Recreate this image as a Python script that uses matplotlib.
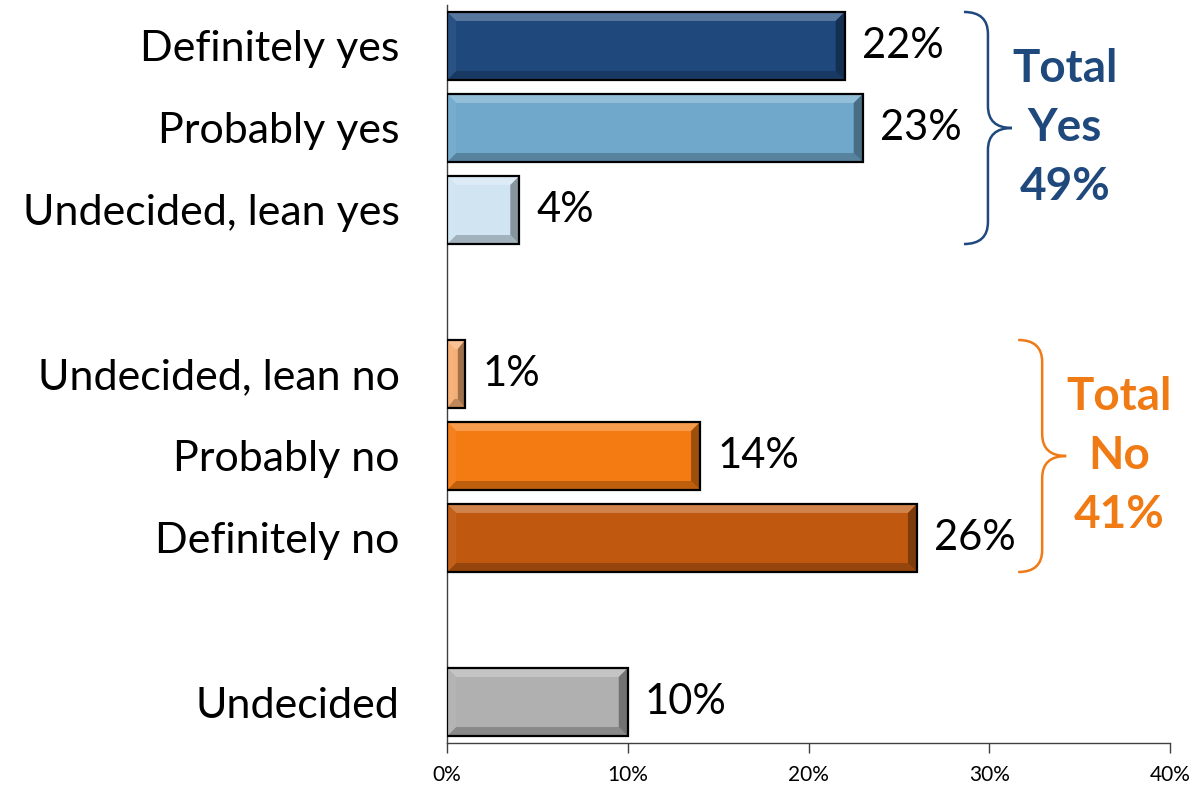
import matplotlib
matplotlib.use("Agg")
import matplotlib.pyplot as plt
from matplotlib.patches import Polygon, Rectangle, PathPatch
from matplotlib.path import Path
import matplotlib.colors as mcolors
import numpy as np

plt.rcParams['font.family'] = ['Lato', 'DejaVu Sans']

categories = ["Definitely yes", "Probably yes", "Undecided, lean yes",
              "Undecided, lean no", "Probably no", "Definitely no", "Undecided"]
values = [22, 23, 4, 1, 14, 26, 10]
slots = [0, 1, 2, 4, 5, 6, 8]
colors = ["#1F497D", "#6FA8CB", "#D0E4F2", "#F5AE74", "#F47A12", "#C0590F", "#B0B0B0"]
xticks = [0, 10, 20, 30, 40]
xticklabels = ["0%", "10%", "20%", "30%", "40%"]
groups = [("Total\nYes\n49%", [0, 1, 2], "#1F497D"),
          ("Total\nNo\n41%", [3, 4, 5], "#F07A14")]

W, H = 1193, 785
fig = plt.figure(figsize=(W / 100, H / 100), dpi=100)
ax = fig.add_axes([447 / W, 1 - 743 / H, (1170 - 447) / W, (743 - 5) / H])
ax.set_xlim(0, 40)
ax.set_ylim(8.5, -0.5)

# pixel -> data conversion
px_x = 40 / (1170 - 447)
px_y = 9 / (743 - 5)

bar_h = 0.83


def mix(c, other, t):
    a = np.array(mcolors.to_rgb(c))
    b = np.array(mcolors.to_rgb(other))
    return tuple(a * (1 - t) + b * t)


for v, s, c in zip(values, slots, colors):
    top = s - bar_h / 2
    bot = s + bar_h / 2
    ax.add_patch(Rectangle((0, top), v, bar_h, facecolor=c, edgecolor='none', zorder=2))
    bx = min(9 * px_x, v * 0.4)
    by = 9 * px_y
    # top bevel (light)
    ax.add_patch(Polygon([(0, top), (v, top), (v - bx, top + by), (bx, top + by)],
                         closed=True, facecolor=mix(c, 'white', 0.25), edgecolor='none', zorder=3))
    # bottom bevel (dark)
    ax.add_patch(Polygon([(0, bot), (v, bot), (v - bx, bot - by), (bx, bot - by)],
                         closed=True, facecolor=mix(c, 'black', 0.22), edgecolor='none', zorder=3))
    # left bevel
    ax.add_patch(Polygon([(0, top), (bx, top + by), (bx, bot - by), (0, bot)],
                         closed=True, facecolor=mix(c, 'white', 0.05), edgecolor='none', zorder=3))
    # right bevel
    ax.add_patch(Polygon([(v, top), (v - bx, top + by), (v - bx, bot - by), (v, bot)],
                         closed=True, facecolor=mix(c, 'black', 0.35), edgecolor='none', zorder=3))
    ax.add_patch(Rectangle((0, top), v, bar_h, facecolor='none', edgecolor='black',
                           linewidth=1.6, zorder=4))
    ax.text(v + 17 * px_x, s, f"{v}%", va='center', ha='left', fontsize=30, color='black')

ax.set_yticks(slots)
ax.set_yticklabels(categories, fontsize=31)
ax.tick_params(axis='y', length=0, pad=34)
ax.set_xticks(xticks)
ax.set_xticklabels(xticklabels, fontsize=15)
ax.tick_params(axis='x', length=7, width=1, color='#404040', pad=9)
for sp in ['top', 'right']:
    ax.spines[sp].set_visible(False)
for sp in ['left', 'bottom']:
    ax.spines[sp].set_color('#404040')
    ax.spines[sp].set_linewidth(1)

# brackets
for label, idx, col in groups:
    gvals = [values[i] for i in idx]
    gslots = [slots[i] for i in idx]
    y0 = min(gslots) - bar_h / 2
    y1 = max(gslots) + bar_h / 2
    ym = (y0 + y1) / 2
    x0 = max(gvals) + 5.6
    dx = 24 * px_x
    ry = 22 * px_y
    xm = x0 + dx
    xt = x0 + 2 * dx
    verts = [(x0, y0), (xm, y0), (xm, y0 + ry),
             (xm, ym - ry),
             (xm, ym), (xt, ym),
             (xm, ym), (xm, ym + ry),
             (xm, y1 - ry),
             (xm, y1), (x0, y1)]
    codes = [Path.MOVETO, Path.CURVE3, Path.CURVE3,
             Path.LINETO,
             Path.CURVE3, Path.CURVE3,
             Path.CURVE3, Path.CURVE3,
             Path.LINETO,
             Path.CURVE3, Path.CURVE3]
    ax.add_patch(PathPatch(Path(verts, codes), facecolor='none', edgecolor=col,
                           linewidth=1.8, clip_on=False, zorder=5))
    ax.text(xt + 53 * px_x, ym, label, ha='center', va='center', fontsize=33,
            fontweight='bold', color=col, linespacing=1.5, clip_on=False)

fig.savefig("out.png", dpi=100)
